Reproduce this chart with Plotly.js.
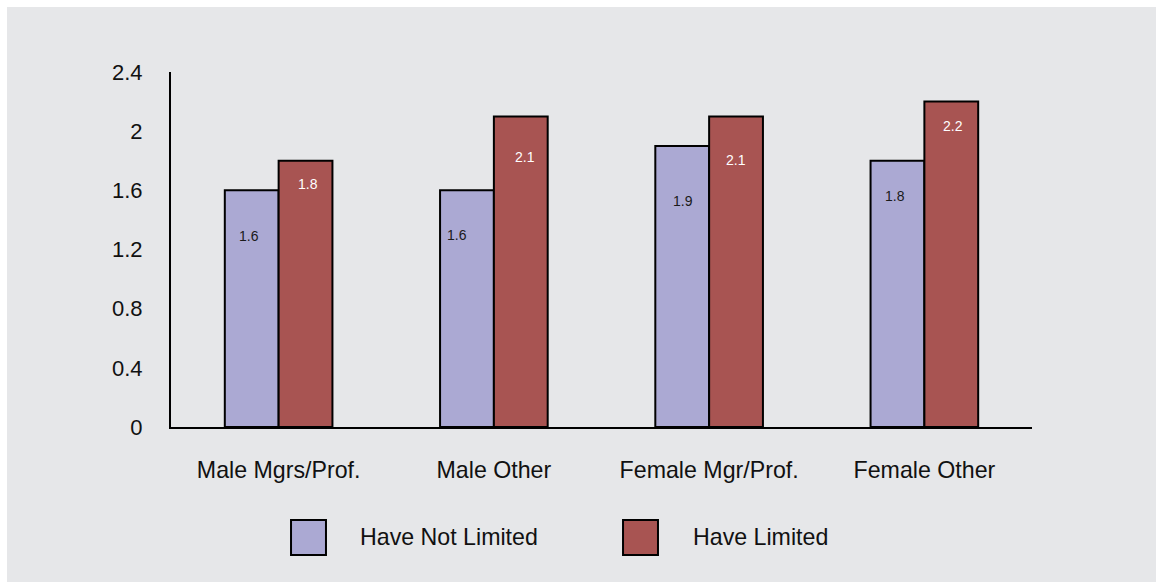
<!DOCTYPE html>
<html>
<head>
<meta charset="utf-8">
<script src="https://cdn.plot.ly/plotly-3.0.1.min.js"></script>
<style>
  html, body { margin: 0; padding: 0; background: #ffffff; width: 1156px; height: 582px; overflow: hidden; }
  #chart { position: absolute; left: 7px; top: 7px; width: 1149px; height: 575px; }
</style>
</head>
<body>
<div id="chart"></div>
<script>
// ---- data ----
const categories = ["Male Mgrs/Prof.", "Male Other", "Female Mgr/Prof.", "Female Other"];
const seriesNames = ["Have Not Limited", "Have Limited"];
const haveNotLimited = [1.6, 1.6, 1.9, 1.8];
const haveLimited = [1.8, 2.1, 2.1, 2.2];
const yTickVals = [0, 0.4, 0.8, 1.2, 1.6, 2, 2.4];

// ---- style ----
const colors = ["#aba9d3", "#a85452"];
const labelColors = ["#1a1a1a", "#ffffff"];
const bg = "#e6e7e9";
const fontFamily = "'Liberation Sans', Arial, sans-serif";
// label pixel offsets below bar top (style only)
const labelDrop = [[46, 45, 55, 35], [23, 41, 44, 24]];
const labelXShift = [[-3, -10, 1, -2], [2, 4, 0, 2]];
const halfBar = 27;

const series = [haveNotLimited, haveLimited];

const traces = series.map((vals, i) => ({
  type: "bar",
  name: seriesNames[i],
  x: categories,
  y: vals,
  marker: { color: colors[i], line: { color: "#000000", width: 2 } },
  hoverinfo: "x+y+name",
  showlegend: false
}));

const annotations = [];
series.forEach((vals, i) => {
  vals.forEach((v, j) => {
    annotations.push({
      x: categories[j], y: v, xref: "x", yref: "y",
      text: String(v),
      showarrow: false,
      xshift: (i === 0 ? -halfBar : halfBar) + labelXShift[i][j],
      yshift: -labelDrop[i][j],
      font: { family: fontFamily, size: 14, color: labelColors[i] },
      xanchor: "center", yanchor: "middle"
    });
  });
});

// manual legend
const legendSquares = [[0.1394, 0.18], [0.525, 0.5656]];
const legendTextX = [0.2172, 0.6040];
const shapes = [];
seriesNames.forEach((n, i) => {
  shapes.push({
    type: "rect", xref: "paper", yref: "paper",
    x0: legendSquares[i][0], x1: legendSquares[i][1],
    y0: -0.3606, y1: -0.262,
    fillcolor: colors[i], line: { color: "#000000", width: 2 }
  });
  annotations.push({
    xref: "paper", yref: "paper", x: legendTextX[i], y: -0.311,
    text: n, showarrow: false, xanchor: "left", yanchor: "middle",
    font: { family: fontFamily, size: 23.2, color: "#111111" }
  });
});

const layout = {
  width: 1149, height: 575,
  paper_bgcolor: bg, plot_bgcolor: bg,
  margin: { l: 164, r: 124, t: 65, b: 155, pad: 0 },
  barmode: "group", bargap: 0.5, bargroupgap: 0,
  showlegend: false,
  font: { family: fontFamily, color: "#111111" },
  xaxis: {
    type: "category",
    showline: true, linecolor: "#000000", linewidth: 2,
    showgrid: false, zeroline: false, ticks: "",
    tickfont: { family: fontFamily, size: 23.2, color: "#111111" },
    ticklabelstandoff: 21
  },
  yaxis: {
    range: [0, 2.4], tickvals: yTickVals,
    showline: true, linecolor: "#000000", linewidth: 2,
    showgrid: false, zeroline: false, ticks: "",
    tickfont: { family: fontFamily, size: 22, color: "#111111" },
    ticklabelstandoff: 22
  },
  annotations: annotations,
  shapes: shapes
};

Plotly.newPlot("chart", traces, layout, { displayModeBar: false, staticPlot: true });
</script>
</body>
</html>
